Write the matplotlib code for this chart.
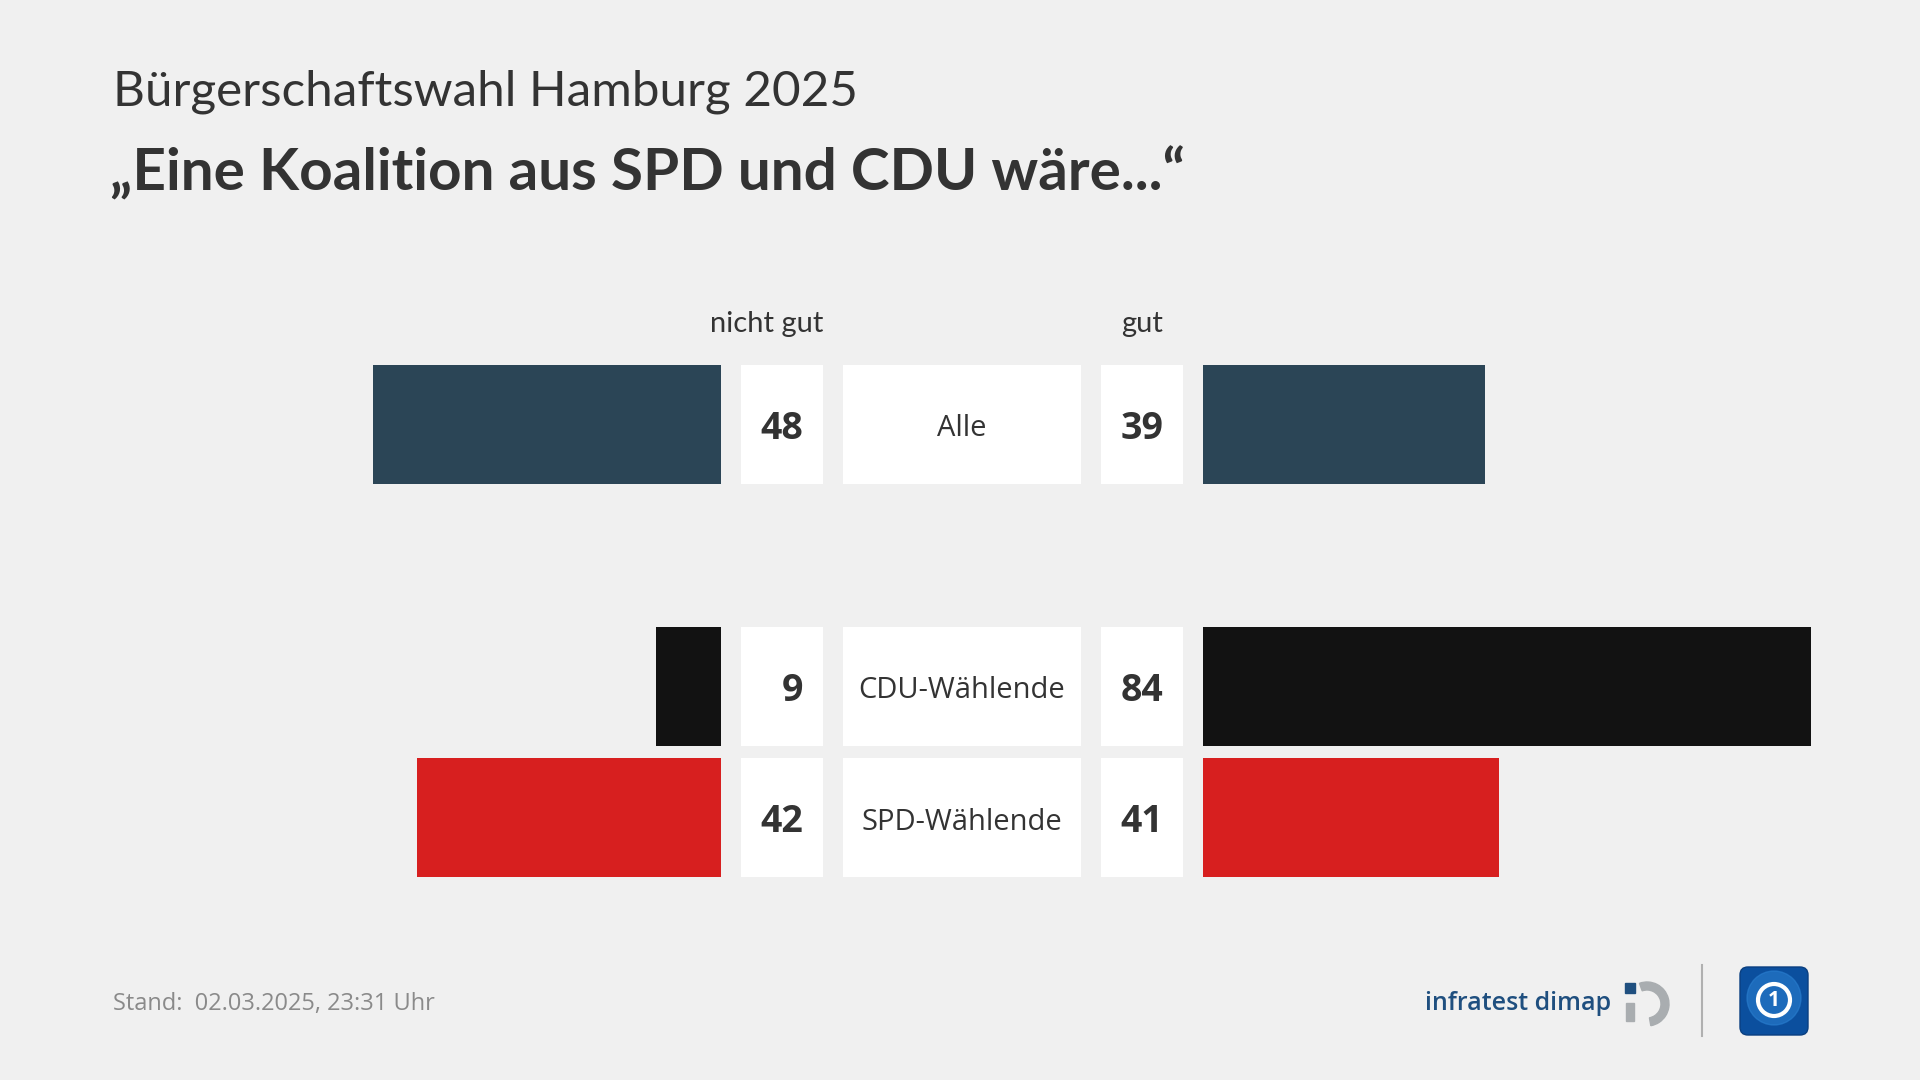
import matplotlib.pyplot as plt
from matplotlib.patches import FancyBboxPatch, Wedge, Rectangle, Circle

# data
categories = ["Alle", "CDU-Wählende", "SPD-Wählende"]
nicht_gut = [48, 9, 42]
gut = [39, 84, 41]
row_pos = [0, 2, 3]
bar_colors = ["#2b4556", "#121212", "#d71f1f"]

subtitle = "Bürgerschaftswahl Hamburg 2025"
title = "„Eine Koalition aus SPD und CDU wäre...“"
header_left = "nicht gut"
header_right = "gut"
footer = "Stand:  02.03.2025, 23:31 Uhr"

BG = "#f0f0f0"
TXT = "#333333"
COND = "Lato"
BODY = "Open Sans"

# layout in pixels
PX_PER_PT = 7.24
X0 = 721          # end of the left bars
ROW_PX0 = 424
ROW_STEP = 131
BAR_H = 119 / ROW_STEP
DY = 5 / ROW_STEP  # nudge texts down a bit


def u(px):
    return (px - X0) / PX_PER_PT


fig = plt.figure(figsize=(19.2, 10.8), dpi=100, facecolor=BG)
ax = fig.add_axes([0, 0, 1, 1])
ax.set_facecolor(BG)
ax.set_xlim(u(0), u(1920))
ax.set_ylim((1080 - ROW_PX0) / ROW_STEP, -ROW_PX0 / ROW_STEP)
ax.axis("off")

# bars
ax.barh(row_pos, [-v for v in nicht_gut], left=0, height=BAR_H, color=bar_colors)
right_start = u(1202.5)
ax.barh(row_pos, gut, left=right_start, height=BAR_H, color=bar_colors)

# white boxes
ax.barh(row_pos, u(823) - u(741), left=u(741), height=BAR_H, color="white")
ax.barh(row_pos, u(1081) - u(842.5), left=u(842.5), height=BAR_H, color="white")
ax.barh(row_pos, u(1183) - u(1101), left=u(1101), height=BAR_H, color="white")

for y, cat, ng, g in zip(row_pos, categories, nicht_gut, gut):
    ax.text(u(803), y + DY, str(ng), ha="right", va="center", fontsize=27,
            fontweight="bold", family=BODY, color=TXT)
    ax.text(u(1163), y + DY, str(g), ha="right", va="center", fontsize=27,
            fontweight="bold", family=BODY, color=TXT)
    ax.text(u(962), y + DY, cat, ha="center", va="center", fontsize=21,
            family=BODY, color=TXT)

# overlay in pixel coords for texts and logos
pix = fig.add_axes([0, 0, 1, 1], facecolor="none")
pix.set_xlim(0, 1920)
pix.set_ylim(1080, 0)
pix.axis("off")

pix.text(113, 92, subtitle, ha="left", va="center", fontsize=35.6, family=COND, color=TXT)
pix.text(110, 173, title, ha="left", va="center", fontsize=42, family=COND,
         fontweight="bold", color=TXT)
pix.text(823, 324, header_left, ha="right", va="center", fontsize=21, family=COND, color=TXT)
pix.text(1142, 324, header_right, ha="center", va="center", fontsize=21, family=COND, color=TXT)

pix.text(113, 1004, footer, ha="left", va="center", fontsize=17, family=BODY, color="#8a8a8a")

# infratest dimap logo
pix.text(1611, 1003, "infratest dimap", ha="right", va="center", fontsize=18,
         family=BODY, fontweight="semibold", color="#1f4f7f")
pix.add_patch(Wedge((1647, 1004), 22, -110, 80, width=8, color="#a9adb0"))
pix.add_patch(Rectangle((1626, 1003), 8, 18, color="#a9adb0"))
pix.add_patch(Rectangle((1625, 983), 10, 10, color="#1f4f7f"))

# separator
pix.plot([1702, 1702], [965, 1036], color="#b0b0b0", lw=1.5)

# tagesschau logo
pix.add_patch(FancyBboxPatch((1740, 967), 68, 68, boxstyle="round,pad=0,rounding_size=8",
                             facecolor="#0b4f9e", edgecolor="#0a3f80", lw=1))
pix.add_patch(Circle((1774, 998), 27, color="#2a7fd0", alpha=0.6))
pix.add_patch(Circle((1774, 1000), 16, fill=False, edgecolor="white", lw=3))
pix.text(1774, 1001, "1", ha="center", va="center", fontsize=15, fontweight="bold",
         color="white", family=BODY)

fig.savefig("out.png", dpi=100, facecolor=BG)
